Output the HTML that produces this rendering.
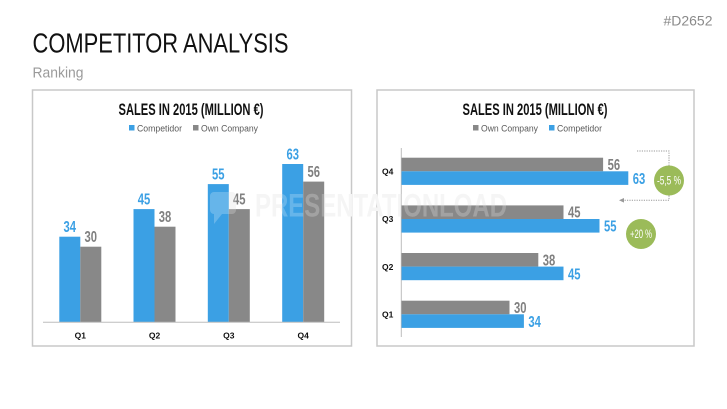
<!DOCTYPE html>
<html><head><meta charset="utf-8"><style>
html,body{margin:0;padding:0;background:#fff;}
svg{display:block;}
text{font-family:"Liberation Sans",sans-serif;}
</style></head><body>
<svg width="727" height="409" viewBox="0 0 727 409" xmlns="http://www.w3.org/2000/svg">
<rect width="727" height="409" fill="#fff"/>
<!-- header -->
<text x="32.5" y="52.3" font-size="28" fill="#111" textLength="256" lengthAdjust="spacingAndGlyphs">COMPETITOR ANALYSIS</text>
<text x="32.5" y="77.5" font-size="15" fill="#9a9a9a" textLength="51" lengthAdjust="spacingAndGlyphs">Ranking</text>
<text x="663.5" y="25.5" font-size="14" fill="#8a8a8a" textLength="49" lengthAdjust="spacingAndGlyphs">#D2652</text>

<!-- panels -->
<rect x="32.5" y="90" width="319" height="256" fill="#fff" stroke="#c8c8c8" stroke-width="1.5"/>
<rect x="377" y="90" width="317" height="256" fill="#fff" stroke="#c8c8c8" stroke-width="1.5"/>

<!-- watermark behind -->
<g fill="#f3f3f3">
<path d="M212 192 h20 a4 4 0 0 1 4 4 v14 a4 4 0 0 1 -4 4 h-10 l-8 10 v-10 a4 4 0 0 1 -4 -4 v-14 a4 4 0 0 1 4 -4z"/>
<text x="255" y="216.5" font-size="32" font-weight="bold" textLength="252" lengthAdjust="spacingAndGlyphs">PRESENTATIONLOAD</text>
</g>

<!-- LEFT CHART -->
<text x="191" y="115" font-size="16.5" font-weight="bold" fill="#111" text-anchor="middle" textLength="145" lengthAdjust="spacingAndGlyphs">SALES IN 2015 (MILLION €)</text>
<rect x="129" y="125" width="5.5" height="5.5" fill="#3ba0e4"/>
<text x="137" y="131.3" font-size="9" fill="#595959" textLength="45" lengthAdjust="spacingAndGlyphs">Competidor</text>
<rect x="193" y="125" width="5.5" height="5.5" fill="#888"/>
<text x="201" y="131.3" font-size="9" fill="#595959" textLength="57" lengthAdjust="spacingAndGlyphs">Own Company</text>

<g fill="#3ba0e4">
<rect x="59.3" y="236.7" width="21" height="85.3"/>
<rect x="133.5" y="209.1" width="21" height="112.9"/>
<rect x="207.8" y="184.1" width="21" height="137.9"/>
<rect x="282.2" y="164" width="21" height="158"/>
</g>
<g fill="#888">
<rect x="80.3" y="246.7" width="21" height="75.3"/>
<rect x="154.5" y="226.7" width="21" height="95.3"/>
<rect x="228.8" y="209.1" width="21" height="112.9"/>
<rect x="303.2" y="181.6" width="21" height="140.4"/>
</g>
<line x1="43" y1="322.3" x2="340" y2="322.3" stroke="#bdbdbd" stroke-width="1"/>

<g font-size="15.5" font-weight="bold" text-anchor="middle">
<g fill="#3ba0e4">
<text x="69.8" y="232" textLength="12.5" lengthAdjust="spacingAndGlyphs">34</text>
<text x="144" y="204.5" textLength="12.5" lengthAdjust="spacingAndGlyphs">45</text>
<text x="218.3" y="179.5" textLength="12.5" lengthAdjust="spacingAndGlyphs">55</text>
<text x="292.7" y="159.5" textLength="12.5" lengthAdjust="spacingAndGlyphs">63</text>
</g>
<g fill="#808080">
<text x="90.8" y="242" textLength="12.5" lengthAdjust="spacingAndGlyphs">30</text>
<text x="165" y="222" textLength="12.5" lengthAdjust="spacingAndGlyphs">38</text>
<text x="239.3" y="204.5" textLength="12.5" lengthAdjust="spacingAndGlyphs">45</text>
<text x="313.7" y="177" textLength="12.5" lengthAdjust="spacingAndGlyphs">56</text>
</g>
</g>
<g font-size="8.5" font-weight="bold" fill="#111" text-anchor="middle">
<text x="80.3" y="338.5">Q1</text>
<text x="154.5" y="338.5">Q2</text>
<text x="228.8" y="338.5">Q3</text>
<text x="303.2" y="338.5">Q4</text>
</g>

<!-- RIGHT CHART -->
<text x="535" y="115" font-size="16.5" font-weight="bold" fill="#111" text-anchor="middle" textLength="145" lengthAdjust="spacingAndGlyphs">SALES IN 2015 (MILLION €)</text>
<rect x="473" y="125" width="5.5" height="5.5" fill="#888"/>
<text x="481" y="131.3" font-size="9" fill="#595959" textLength="57" lengthAdjust="spacingAndGlyphs">Own Company</text>
<rect x="549" y="125" width="5.5" height="5.5" fill="#3ba0e4"/>
<text x="557" y="131.3" font-size="9" fill="#595959" textLength="45" lengthAdjust="spacingAndGlyphs">Competidor</text>

<line x1="401.3" y1="148" x2="401.3" y2="337" stroke="#bdbdbd" stroke-width="1"/>
<g fill="#888">
<rect x="401.5" y="157.7" width="201.6" height="13.6"/>
<rect x="401.5" y="205.4" width="162" height="13.6"/>
<rect x="401.5" y="253" width="136.8" height="13.6"/>
<rect x="401.5" y="300.7" width="108" height="13.6"/>
</g>
<g fill="#3ba0e4">
<rect x="401.5" y="171.3" width="226.8" height="13.6"/>
<rect x="401.5" y="219" width="198" height="13.6"/>
<rect x="401.5" y="266.6" width="162" height="13.6"/>
<rect x="401.5" y="314.3" width="122.4" height="13.6"/>
</g>
<g font-size="15.5" font-weight="bold">
<g fill="#808080">
<text x="607.6" y="170" textLength="12.5" lengthAdjust="spacingAndGlyphs">56</text>
<text x="568" y="217.7" textLength="12.5" lengthAdjust="spacingAndGlyphs">45</text>
<text x="542.8" y="265.3" textLength="12.5" lengthAdjust="spacingAndGlyphs">38</text>
<text x="514" y="313" textLength="12.5" lengthAdjust="spacingAndGlyphs">30</text>
</g>
<g fill="#3ba0e4">
<text x="632.8" y="184" textLength="12.5" lengthAdjust="spacingAndGlyphs">63</text>
<text x="604" y="231.7" textLength="12.5" lengthAdjust="spacingAndGlyphs">55</text>
<text x="568" y="279.3" textLength="12.5" lengthAdjust="spacingAndGlyphs">45</text>
<text x="528.4" y="327" textLength="12.5" lengthAdjust="spacingAndGlyphs">34</text>
</g>
</g>
<g font-size="8.5" font-weight="bold" fill="#111">
<text x="382" y="174.5">Q4</text>
<text x="382" y="222.2">Q3</text>
<text x="382" y="269.8">Q2</text>
<text x="382" y="317.5">Q1</text>
</g>

<!-- dotted connectors -->
<g stroke="#999" stroke-width="1" stroke-dasharray="1.2,1.2" fill="none">
<polyline points="637,151 669,151 669,165.5"/>
<polyline points="669,195.5 669,200.3 622,200.3"/>
</g>
<path d="M619 200.3 L624 198 L624 202.6 Z" fill="#999"/>

<!-- circles -->
<circle cx="669" cy="180.5" r="15" fill="#9bbb59"/>
<circle cx="641" cy="234" r="15" fill="#9bbb59"/>
<g font-size="11.5" fill="#fff" text-anchor="middle">
<text x="669" y="184.5" textLength="24" lengthAdjust="spacingAndGlyphs">-5,5 %</text>
<text x="641" y="238" textLength="22" lengthAdjust="spacingAndGlyphs">+20 %</text>
</g>

<!-- watermark overlay -->
<g fill="#fff" opacity="0.22">
<text x="255" y="216.5" font-size="32" font-weight="bold" textLength="252" lengthAdjust="spacingAndGlyphs">PRESENTATIONLOAD</text>
<path d="M212 192 h20 a4 4 0 0 1 4 4 v14 a4 4 0 0 1 -4 4 h-10 l-8 10 v-10 a4 4 0 0 1 -4 -4 v-14 a4 4 0 0 1 4 -4z"/>
</g>
</svg>
</body></html>
